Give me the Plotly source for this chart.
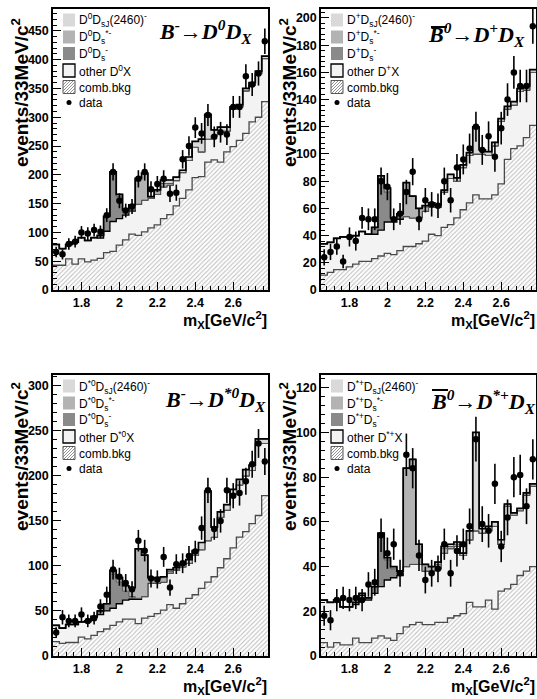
import numpy as np
import plotly.graph_objects as go

# ---------------- data (34 bins of 33 MeV starting at 1.65 GeV) ----------------
bin_lo = 1.65
bin_w = 1.0 / 30.0
n_bins = 34

# Panel 1 : B- -> D0 DX
data1 = [66, 62, 80, 84, 100, 98, 104, 101, 130, 205, 155, 138, 145, 193, 205, 175, 184, 193, 167, 169,
         227, 250, 282, 272, 304, 266, 274, 270, 318, 318, 371, 357, 376, 432]
err1 = [9, 9, 10, 10, 11, 11, 11, 11, 12, 15, 13, 12, 13, 15, 15, 14, 14, 15, 14, 14,
        16, 17, 18, 18, 19, 18, 18, 18, 19, 19, 21, 20, 21, 22]
bkg1 = [43, 43, 54, 45, 54, 49, 52, 55, 65, 67, 78, 87, 97, 95, 101, 108, 113, 124, 131, 146,
        159, 174, 195, 197, 222, 226, 222, 240, 249, 260, 272, 292, 300, 327]
oth1 = [36, 29, 25, 38, 37, 37, 39, 35, 37, 52, 46, 43, 40, 54, 55, 51, 53, 55, 51, 44,
        45, 51, 53, 43, 40, 42, 52, 36, 65, 58, 74, 64, 76, 75]
ds1 = [0, 0, 0, 0, 0, 0, 0, 5, 26, 82, 38, 4, 2, 0, 0, 0, 0, 0, 0, 0,
       0, 0, 0, 0, 0, 0, 0, 0, 0, 0, 0, 0, 0, 0]
dsst1 = [0, 0, 0, 0, 0, 0, 0, 0, 0, 4, 4, 5, 9, 45, 46, 3, 6, 6, 3, 0,
         0, 0, 0, 0, 0, 0, 0, 0, 0, 0, 0, 0, 0, 0]
dsj1 = [0, 0, 0, 0, 0, 0, 0, 0, 0, 0, 0, 0, 0, 0, 1, 0, 2, 6, 6, 6,
        4, 6, 10, 22, 43, 10, 9, 7, 4, 4, 4, 4, 4, 4]

# Panel 2 : B0bar -> D+ DX
data2 = [24, 28, 32, 21, 39, 36, 53, 52, 52, 80, 76, 52, 56, 72, 87, 52, 66, 63, 62, 80,
         66, 90, 96, 104, 120, 103, 113, 98, 119, 140, 160, 150, 150, 194]
err2 = [6, 6, 6, 5, 7, 7, 8, 8, 8, 10, 10, 8, 8, 9, 10, 8, 9, 9, 9, 10,
        9, 10, 11, 11, 11, 11, 11, 11, 12, 12, 12, 12, 12, 13]
bkg2 = [11, 13, 15, 15, 17, 19, 21, 21, 23, 25, 27, 26, 29, 32, 32, 34, 36, 41, 40, 46,
        48, 53, 59, 64, 70, 67, 67, 70, 78, 96, 104, 106, 112, 121]
oth2 = [23, 22, 23, 24, 22, 21, 22, 20, 18, 19, 23, 24, 23, 22, 21, 19, 22, 20, 21, 26,
        34, 27, 31, 35, 30, 33, 32, 36, 46, 37, 32, 40, 35, 39]
ds2 = [0, 0, 0, 0, 0, 0, 0, 0, 5, 38, 22, 2, 1, 0, 0, 0, 0, 0, 0, 0,
       0, 0, 0, 0, 0, 0, 0, 0, 0, 0, 0, 0, 0, 0]
dsst2 = [0, 0, 0, 0, 0, 0, 0, 0, 0, 2, 3, 1, 3, 25, 16, 7, 3, 1, 0, 0,
         0, 0, 0, 0, 0, 0, 0, 0, 0, 0, 0, 0, 0, 0]
dsj2 = [0, 0, 0, 0, 0, 0, 0, 0, 0, 0, 0, 0, 0, 0, 0, 0, 1, 2, 1.5, 1.5,
        3, 2.5, 2, 2, 20, 3, 2.7, 2.5, 2, 2, 2.5, 2, 3, 2]

# Panel 3 : B- -> D*0 DX
data3 = [26, 43, 39, 39, 46, 39, 42, 55, 68, 96, 88, 81, 74, 128, 117, 86, 85, 110, 76, 102,
         103, 111, 116, 142, 184, 141, 150, 184, 178, 181, 194, 213, 236, 216]
err3 = [6, 8, 7, 7, 8, 7, 7, 8, 9, 11, 10, 10, 9, 12, 12, 10, 10, 11, 9, 11,
        11, 11, 12, 13, 14, 12, 13, 14, 14, 14, 15, 15, 16, 15]
bkg3 = [16, 14, 15, 15, 21, 19, 23, 27, 30, 34, 38, 41, 41, 36, 42, 44, 47, 51, 57, 53,
        58, 64, 68, 75, 82, 88, 98, 108, 120, 132, 138, 147, 156, 178]
oth3 = [18, 17, 20, 20, 17, 19, 20, 19, 20, 19, 20, 21, 22, 27, 24, 37, 34, 31, 35, 42,
        41, 39, 44, 43, 46, 44, 56, 54, 60, 58, 62, 59, 80, 58]
ds3 = [0, 0, 0, 0, 0, 1, 1, 4, 8, 38, 24, 10, 3, 1, 0, 0, 0, 0, 0, 0,
       0, 0, 0, 0, 0, 0, 0, 0, 0, 0, 0, 0, 0, 0]
dsst3 = [0, 0, 0, 0, 0, 0, 0, 0, 0, 4, 5, 6, 10, 55, 46, 6, 6, 5, 2, 1,
         0, 0, 0, 0, 0, 0, 0, 0, 0, 0, 0, 0, 0, 0]
dsj3 = [0, 0, 0, 0, 0, 0, 0, 0, 0, 0, 0, 0, 0, 0, 0, 0, 0, 1, 2, 2,
        3, 4, 5, 8, 55, 11, 6, 6, 5, 6, 7, 6, 5, 5]

# Panel 4 : B0bar -> D*+ DX
data4 = [18, 16, 25, 26, 25, 26, 25, 32, 33, 54, 46, 50, 37, 90, 84, 45, 34, 37, 39, 50,
         37, 47, 50, 58, 97, 59, 56, 77, 49, 62, 80, 81, 67, 88]
err4 = [4.5, 4.5, 5, 5, 5, 5, 5, 5.5, 6, 7.5, 7, 7, 6, 9.5, 9, 7, 6, 6, 6, 7,
        6, 7, 7, 8, 10, 8, 7.5, 9, 7, 8, 9, 9, 8, 9]
bkg4 = [6, 4, 6, 5, 5, 8, 6, 6, 8, 9, 8, 7, 10, 13, 14, 15, 14, 14, 15, 15,
        17, 18, 19, 24, 22, 22, 25, 21, 29, 30, 32, 36, 38, 40]
oth4 = [19, 20, 19, 17, 17, 15, 21, 19, 20, 22, 26, 28, 26, 27, 27, 26, 24, 24, 24, 31,
        31, 31, 26, 28, 34, 33, 31, 37, 21, 37, 31, 29, 34, 36]
ds4 = [0, 0, 0, 0, 0, 1, 1, 1, 3, 23, 9, 4, 1, 0, 0, 0, 0, 0, 0, 0,
       0, 0, 0, 0, 0, 0, 0, 0, 0, 0, 0, 0, 0, 0]
dsst4 = [0, 0, 0, 0, 0, 0, 0, 0, 0, 1, 1, 1, 1, 44, 47, 9, 3, 2, 2, 2,
         1, 1, 0, 0, 0, 0, 0, 0, 0, 0, 0, 0, 0, 0]
dsj4 = [0, 0, 0, 0, 0, 0, 0, 0, 0, 0, 0, 0, 0, 0, 0, 0, 0, 0, 1, 1,
        1, 1, 1, 4, 44, 2, 2, 2, 2, 1, 1, 1, 1, 1]

x_ticks = [1.8, 2.0, 2.2, 2.4, 2.6]
x_tick_text = ["1.8", "2", "2.2", "2.4", "2.6"]

legend_labels1 = ["D<sup>0</sup>D<sub>sJ</sub>(2460)<sup>-</sup>", "D<sup>0</sup>D<sub>s</sub><sup>*-</sup>",
                  "D<sup>0</sup>D<sub>s</sub><sup>-</sup>", "other D<sup>0</sup>X", "comb.bkg", "data"]
legend_labels2 = ["D<sup>+</sup>D<sub>sJ</sub>(2460)<sup>-</sup>", "D<sup>+</sup>D<sub>s</sub><sup>*-</sup>",
                  "D<sup>+</sup>D<sub>s</sub><sup>-</sup>", "other D<sup>+</sup>X", "comb.bkg", "data"]
legend_labels3 = ["D<sup>*0</sup>D<sub>sJ</sub>(2460)<sup>-</sup>", "D<sup>*0</sup>D<sub>s</sub><sup>*-</sup>",
                  "D<sup>*0</sup>D<sub>s</sub><sup>-</sup>", "other D<sup>*0</sup>X", "comb.bkg", "data"]
legend_labels4 = ["D<sup>*+</sup>D<sub>sJ</sub>(2460)<sup>-</sup>", "D<sup>*+</sup>D<sub>s</sub><sup>*-</sup>",
                  "D<sup>*+</sup>D<sub>s</sub><sup>-</sup>", "other D<sup>*+</sup>X", "comb.bkg", "data"]

titles = ["B<sup>-</sup>→D<sup>0</sup>D<sub>X</sub>", "B<sup>0</sup>→D<sup>+</sup>D<sub>X</sub>",
          "B<sup>-</sup>→D<sup>*0</sup>D<sub>X</sub>", "B<sup>0</sup>→D<sup>*+</sup>D<sub>X</sub>"]

# ---------------- layout geometry ----------------
W, H = 537, 699
def px_x(p):
    return p / W
def px_y(p):
    return 1 - p / H

panels = [
    dict(data=data1, err=err1, bkg=bkg1, oth=oth1, ds=ds1, dsst=dsst1, dsj=dsj1, labels=legend_labels1,
         yr=[0, 488], dy=50, mdy=10, top=9, left=53, right=268, bottom=290, tshift=-14, ty=22, yt=84),
    dict(data=data2, err=err2, bkg=bkg2, oth=oth2, ds=ds2, dsst=dsst2, dsj=dsj2, labels=legend_labels2,
         yr=[0, 206.6], dy=20, mdy=4, top=9, left=321, right=536, bottom=290, tshift=-9, ty=26, yt=84),
    dict(data=data3, err=err3, bkg=bkg3, oth=oth3, ds=ds3, dsst=dsst3, dsj=dsj3, labels=legend_labels3,
         yr=[0, 312], dy=50, mdy=10, top=375, left=53, right=268, bottom=656, tshift=0, ty=24, yt=82),
    dict(data=data4, err=err4, bkg=bkg4, oth=oth4, ds=ds4, dsst=dsst4, dsj=dsj4, labels=legend_labels4,
         yr=[0, 125.7], dy=20, mdy=4, top=375, left=321, right=536, bottom=656, tshift=2, ty=26, yt=82),
]

edges = bin_lo + bin_w * np.arange(n_bins + 1)
centers = bin_lo + bin_w * (np.arange(n_bins) + 0.5)

C_DSJ = "#d9d9d9"
C_DSST = "#b3b3b3"
C_DS = "#8a8a8a"
C_OTH = "#f3f3f3"
HATCH = "#767676"
SANS = "Liberation Sans, Arial, Helvetica, sans-serif"
SERIF = "Liberation Serif, Times New Roman, serif"

fig = go.Figure()
layout_extra = {}
annotations = []
shapes = []


def step(v):
    v = list(v)
    return v + [v[-1]]


for k, p in enumerate(panels):
    n = k + 1
    xa = "x" if n == 1 else f"x{n}"
    ya = "y" if n == 1 else f"y{n}"
    sg = f"stack{n}"
    L, T = p["left"], p["top"]

    comps = [
        (p["bkg"], dict(color="#4a4a4a", width=1.3), dict(fillcolor="white",
            fillpattern=dict(shape="/", fgcolor=HATCH, bgcolor="white", size=3.2, solidity=0.3))),
        (p["oth"], dict(color="black", width=1.3), dict(fillcolor=C_OTH)),
        (p["ds"], dict(color="#555555", width=1), dict(fillcolor=C_DS)),
        (p["dsst"], dict(color="#555555", width=1), dict(fillcolor=C_DSST)),
        (p["dsj"], dict(color="#555555", width=1), dict(fillcolor=C_DSJ)),
    ]
    for vals, ln, fl in comps:
        fig.add_trace(go.Scatter(x=edges, y=step(vals), mode="lines", line=dict(shape="hv", **ln),
                                 stackgroup=sg, showlegend=False, hoverinfo="skip",
                                 xaxis=xa, yaxis=ya, **fl))
    total = (np.array(p["bkg"], float) + np.array(p["oth"], float) + np.array(p["ds"], float)
             + np.array(p["dsst"], float) + np.array(p["dsj"], float))
    fig.add_trace(go.Scatter(x=edges, y=step(total), mode="lines",
                             line=dict(shape="hv", color="black", width=1.7),
                             showlegend=False, hoverinfo="skip", xaxis=xa, yaxis=ya))

    fig.add_trace(go.Scatter(x=centers, y=p["data"], mode="markers", name="data",
                             marker=dict(color="black", size=6.5, symbol="circle"),
                             error_y=dict(type="data", array=p["err"], color="black", thickness=1.6, width=0),
                             xaxis=xa, yaxis=ya, showlegend=False))

    tickfont = dict(family=SANS, size=12.5, color="black", weight="bold")
    xkey = "xaxis" if n == 1 else f"xaxis{n}"
    ykey = "yaxis" if n == 1 else f"yaxis{n}"
    layout_extra[xkey] = dict(domain=[px_x(L), px_x(p["right"])], anchor=ya, range=[edges[0], edges[-1]],
                              tickmode="array", tickvals=x_ticks, ticktext=x_tick_text,
                              ticks="inside", ticklen=8, tickwidth=1.2, tickcolor="black",
                              showline=True, linecolor="black", linewidth=1.5, mirror=True,
                              showgrid=False, zeroline=False, tickfont=tickfont, automargin=False,
                              minor=dict(tickmode="linear", tick0=1.8, dtick=0.04, ticks="inside",
                                         ticklen=4, tickwidth=1, tickcolor="black", showgrid=False))
    layout_extra[ykey] = dict(domain=[px_y(p["bottom"]), px_y(T)], anchor=xa, range=p["yr"],
                              tickmode="linear", tick0=0, dtick=p["dy"],
                              ticks="inside", ticklen=8, tickwidth=1.2, tickcolor="black",
                              showline=True, linecolor="black", linewidth=1.5, mirror=True,
                              showgrid=False, zeroline=False, tickfont=tickfont, automargin=False,
                              minor=dict(tickmode="linear", tick0=0, dtick=p["mdy"], ticks="inside",
                                         ticklen=4, tickwidth=1, tickcolor="black", showgrid=False))

    # ---- hand-placed legend (ROOT style) ----
    rows = [T + 11, T + 28, T + 44.5, T + 61.5, T + 78, T + 93.5]
    sx0, sx1 = L + 10, L + 22
    box_fill = [C_DSJ, C_DSST, C_DS]
    for i in range(3):
        shapes.append(dict(type="rect", xref="paper", yref="paper", x0=px_x(sx0), x1=px_x(sx1),
                           y0=px_y(rows[i] + 6.5), y1=px_y(rows[i] - 6.5),
                           fillcolor=box_fill[i], line=dict(width=0)))
    shapes.append(dict(type="rect", xref="paper", yref="paper", x0=px_x(sx0), x1=px_x(sx1),
                       y0=px_y(rows[3] + 6.5), y1=px_y(rows[3] - 6.5),
                       fillcolor=C_OTH, line=dict(color="black", width=1.3)))
    ybot, ytop = rows[4] + 6.5, rows[4] - 6.5
    shapes.append(dict(type="rect", xref="paper", yref="paper", x0=px_x(sx0), x1=px_x(sx1),
                       y0=px_y(ybot), y1=px_y(ytop), fillcolor="white", line=dict(color="#555555", width=1)))
    bw, bh = sx1 - sx0, ybot - ytop
    for c in np.arange(-bh + 1.5, bw, 3.0):
        u0, u1 = max(0.0, c), min(bw, bh + c)
        if u1 - u0 < 0.5:
            continue
        shapes.append(dict(type="line", xref="paper", yref="paper",
                           x0=px_x(sx0 + u0), y0=px_y(ybot - (u0 - c)),
                           x1=px_x(sx0 + u1), y1=px_y(ybot - (u1 - c)),
                           line=dict(color=HATCH, width=0.8)))
    cx, cy = (sx0 + sx1) / 2, rows[5]
    shapes.append(dict(type="circle", xref="paper", yref="paper", x0=px_x(cx - 2.5), x1=px_x(cx + 2.5),
                       y0=px_y(cy + 2.5), y1=px_y(cy - 2.5), fillcolor="black", line=dict(width=0)))
    for i, lab in enumerate(p["labels"]):
        annotations.append(dict(text=lab, x=px_x(L + 23.5), y=px_y(rows[i] + 0.5), xref="paper", yref="paper",
                                xanchor="left", yanchor="middle", showarrow=False,
                                font=dict(family=SANS, size=12, color="black")))

    # axis titles
    annotations.append(dict(text="<b>events/33MeV/c<sup>2</sup></b>", textangle=-90,
                            x=px_x(L - 33), y=px_y(T + p["yt"]), xref="paper", yref="paper",
                            xanchor="center", yanchor="middle", showarrow=False,
                            font=dict(family=SANS, size=19, color="black")))
    annotations.append(dict(text="<b>m<sub>X</sub>[GeV/c<sup>2</sup>]</b>",
                            x=px_x(p["right"] + 1), y=px_y(p["bottom"] + 30), xref="paper", yref="paper",
                            xanchor="right", yanchor="middle", showarrow=False,
                            font=dict(family=SANS, size=16, color="black")))
    # decay title
    annotations.append(dict(text="<b><i>" + titles[k] + "</i></b>",
                            x=px_x(p["right"] + p["tshift"]), y=px_y(T + p["ty"]),
                            xref="paper", yref="paper", xanchor="right", yanchor="middle",
                            showarrow=False, font=dict(family=SERIF, size=22, color="black")))

# overline on B-bar titles
for (x0, x1, yy) in [(431, 447, 27), (432, 448, 390)]:
    shapes.append(dict(type="line", xref="paper", yref="paper", x0=px_x(x0), x1=px_x(x1),
                       y0=px_y(yy), y1=px_y(yy), line=dict(color="black", width=2)))

fig.update_layout(width=W, height=H, margin=dict(l=0, r=0, t=0, b=0), autosize=False,
                  paper_bgcolor="white", plot_bgcolor="white", showlegend=False,
                  annotations=annotations, shapes=shapes, **layout_extra)

fig.write_html("out.html", config={"displayModeBar": False},
               post_script="document.body.style.margin='0px';document.body.style.padding='0px';"
                           "document.documentElement.style.overflow='hidden';")
